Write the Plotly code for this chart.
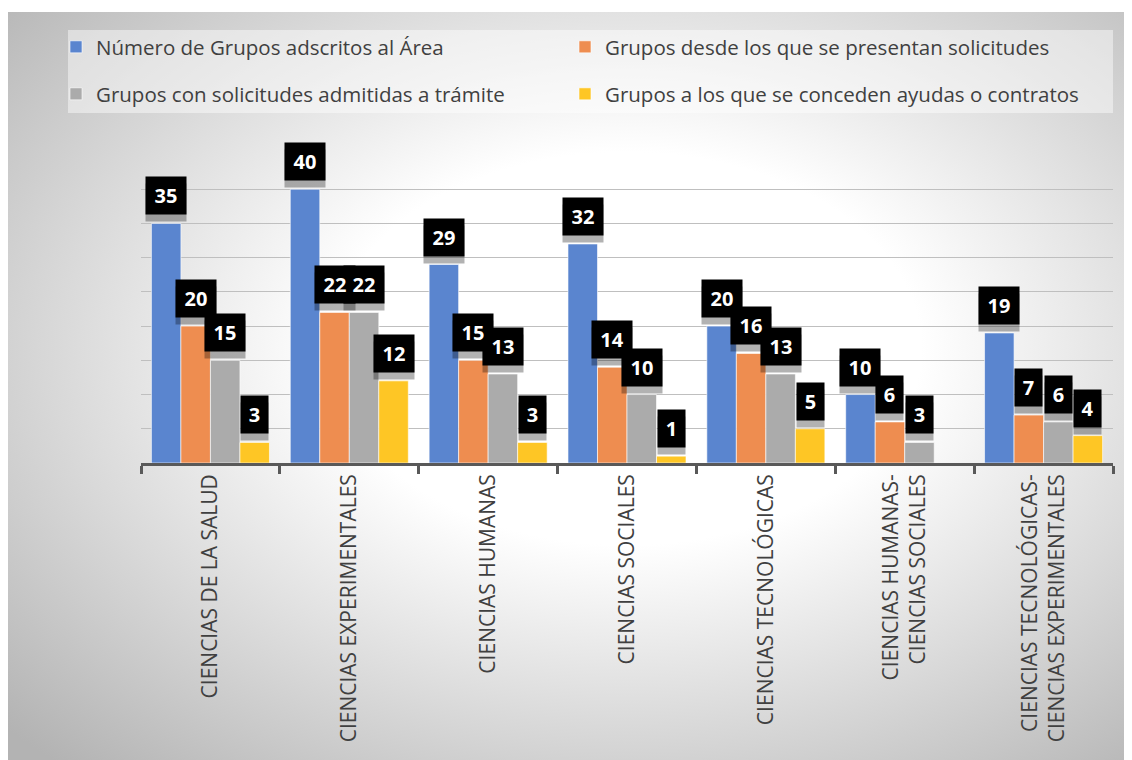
import base64
import plotly.graph_objects as go

# Categorías y series
categorias = ["CIENCIAS DE LA SALUD", "CIENCIAS EXPERIMENTALES", "CIENCIAS HUMANAS",
              "CIENCIAS SOCIALES", "CIENCIAS TECNOLÓGICAS",
              "CIENCIAS HUMANAS-<br>CIENCIAS SOCIALES",
              "CIENCIAS TECNOLÓGICAS-<br>CIENCIAS EXPERIMENTALES"]
adscritos = [35, 40, 29, 32, 20, 10, 19]
presentan = [20, 22, 15, 14, 16, 6, 7]
admitidas = [15, 22, 13, 10, 13, 3, 6]
concedidas = [3, 12, 3, 1, 5, None, 4]

series = [
    ("Número de Grupos adscritos al Área", adscritos, "#5a85cf"),
    ("Grupos desde los que se presentan solicitudes", presentan, "#ee8d50"),
    ("Grupos con solicitudes admitidas a trámite", admitidas, "#ababab"),
    ("Grupos a los que se conceden ayudas o contratos", concedidas, "#fec625"),
]
legend_ids = ["legend", "legend2", "legend3", "legend4"]

BARGAP = 0.15
FONT = "Open Sans"
W, H = 1124, 752  # la página añade 8 px de margen

fig = go.Figure()
for (name, vals, color), leg in zip(series, legend_ids):
    fig.add_trace(go.Bar(x=categorias, y=vals, name=name, legend=leg, showlegend=True,
                         marker=dict(color=color, line=dict(color="rgba(255,255,255,0.6)", width=1))))

# etiquetas de datos: sombra, caja negra y texto en capas separadas
n = len(series)
w = (1 - BARGAP) / n
etiquetas = []
for k, (name, vals, color) in enumerate(series):
    off = -(1 - BARGAP) / 2 + (k + 0.5) * w
    for i, v in enumerate(vals):
        if v is not None:
            etiquetas.append((i + off, v))

capas = [
    dict(yshift=1, bgcolor="rgba(0,0,0,0.3)", texto=False),
    dict(yshift=8, bgcolor="black", texto=False),
    dict(yshift=8, bgcolor="rgba(0,0,0,0)", texto=True),
]
for capa in capas:
    for x, v in etiquetas:
        fig.add_annotation(x=x, y=v, text=f"<b>{v}</b>" if capa["texto"] else " ",
                           showarrow=False, yanchor="bottom", yshift=capa["yshift"],
                           bgcolor=capa["bgcolor"], width=13 * len(str(v)), height=23,
                           borderpad=7, font=dict(family=FONT, size=20, color="white"))

# fondo degradado radial
svg = ('<svg xmlns="http://www.w3.org/2000/svg" width="100" height="100" preserveAspectRatio="none">'
       '<defs><radialGradient id="g" cx="0.55" cy="0.45" r="0.75">'
       '<stop offset="0" stop-color="#ffffff"/><stop offset="0.35" stop-color="#ffffff"/>'
       '<stop offset="1" stop-color="#b3b3b3"/></radialGradient></defs>'
       '<rect width="100" height="100" fill="url(#g)"/></svg>')
src = "data:image/svg+xml;base64," + base64.b64encode(svg.encode()).decode()

L, R, T, B = 133, 1105, 147, 455
PW, PH = R - L, B - T
fig.add_layout_image(source=src, xref="paper", yref="paper",
                     x=-L / PW, y=(B - 4) / PH, sizex=W / PW, sizey=(H - 4) / PH,
                     xanchor="left", yanchor="top", sizing="stretch", layer="below")

# caja de la leyenda
fig.add_shape(type="rect", xref="paper", yref="paper", layer="below",
              x0=(60 - L) / PW, x1=(1105 - L) / PW, y0=(B - 105) / PH, y1=(B - 22) / PH,
              fillcolor="rgba(255,255,255,0.45)", line=dict(width=0))

leg_style = dict(xref="container", yref="container", xanchor="left", yanchor="top",
                 bgcolor="rgba(0,0,0,0)", font=dict(family=FONT, size=20.5, color="#404040"))
leg_pos = [(48, 19), (557, 19), (48, 66), (557, 66)]
legends = {lid: dict(x=px / W, y=1 - py / H, **leg_style) for lid, (px, py) in zip(legend_ids, leg_pos)}

fig.update_layout(
    width=W, height=H, showlegend=True,
    barmode="group", bargap=BARGAP, bargroupgap=0,
    paper_bgcolor="white", plot_bgcolor="rgba(0,0,0,0)",
    margin=dict(l=L, r=W - R, t=T, b=H - B, autoexpand=False),
    xaxis=dict(showline=True, linecolor="#595959", linewidth=2.5, ticks="outside",
               tickson="boundaries", ticklen=8, tickwidth=2.5, tickcolor="#595959",
               tickangle=-90, showgrid=False,
               tickfont=dict(family=FONT, size=21, color="#404040")),
    yaxis=dict(range=[0, 45], dtick=5, showticklabels=False, gridcolor="#bfbfbf",
               gridwidth=1, zeroline=False, showline=False),
    **legends,
)

fig.write_html("out.html")
